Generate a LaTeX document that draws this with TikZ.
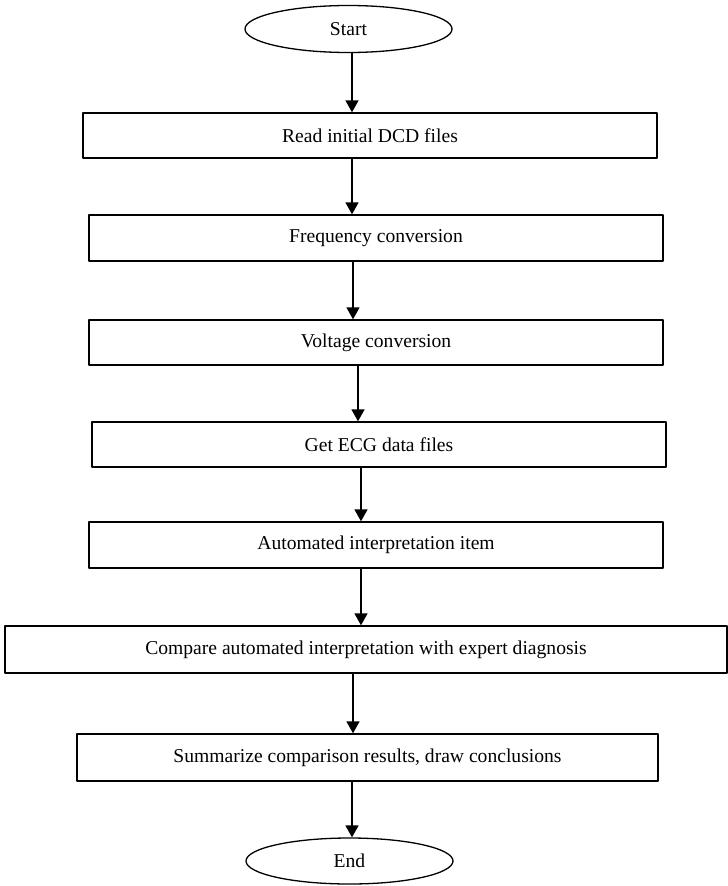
\documentclass[tikz,border=0pt]{standalone}
\usepackage{fontspec}
\setmainfont{Liberation Serif}
\usetikzlibrary{arrows.meta,shapes.geometric}
\tikzset{
  every picture/.style={line join=round, >={Triangle[length=12pt,width=13pt]}},
  stepbox/.style={draw, rectangle, line width=1.4pt, minimum height=45pt, inner sep=0pt,
    font=\fontsize{19.6}{22}\selectfont},
  terminal/.style={draw, ellipse, line width=1.3pt, minimum width=207pt, minimum height=47pt,
    inner sep=0pt, font=\fontsize{19.6}{22}\selectfont},
  flow/.style={->, line width=1.6pt},
}

\begin{document}
\begin{tikzpicture}[x=1pt,y=-1pt]
\useasboundingbox (0,0) rectangle (728,886);
\node[terminal] (start) at (348.5,29) {Start};
\node[stepbox, minimum width=574pt] (read) at (370,135.5) {Read initial DCD files};
\node[stepbox, minimum width=574pt, minimum height=46pt] (freq) at (376,238) {Frequency conversion};
\node[stepbox, minimum width=574pt] (volt) at (376,342.5) {Voltage conversion};
\node[stepbox, minimum width=574pt] (ecg) at (379,444.5) {Get ECG data files};
\node[stepbox, minimum width=574pt, minimum height=46pt] (auto) at (376,545) {Automated interpretation item};
\node[stepbox, minimum width=722pt, minimum height=47pt] (comp) at (366,649.5) {Compare automated interpretation with expert diagnosis};
\node[stepbox, minimum width=581pt, minimum height=47pt] (summ) at (367.5,757.5) {Summarize comparison results, draw conclusions};
\node[terminal, minimum height=46pt] (finish) at (349.5,861) {End};
\foreach \a/\b/\x in {start/read/352, read/freq/352, freq/volt/353, volt/ecg/358,
                      ecg/auto/361, auto/comp/361, comp/summ/353, summ/finish/352}{
  \coordinate (col) at (\x,0);
  \draw[flow] (\a.south -| col) -- (\b.north -| col);
}
\end{tikzpicture}
\end{document}
